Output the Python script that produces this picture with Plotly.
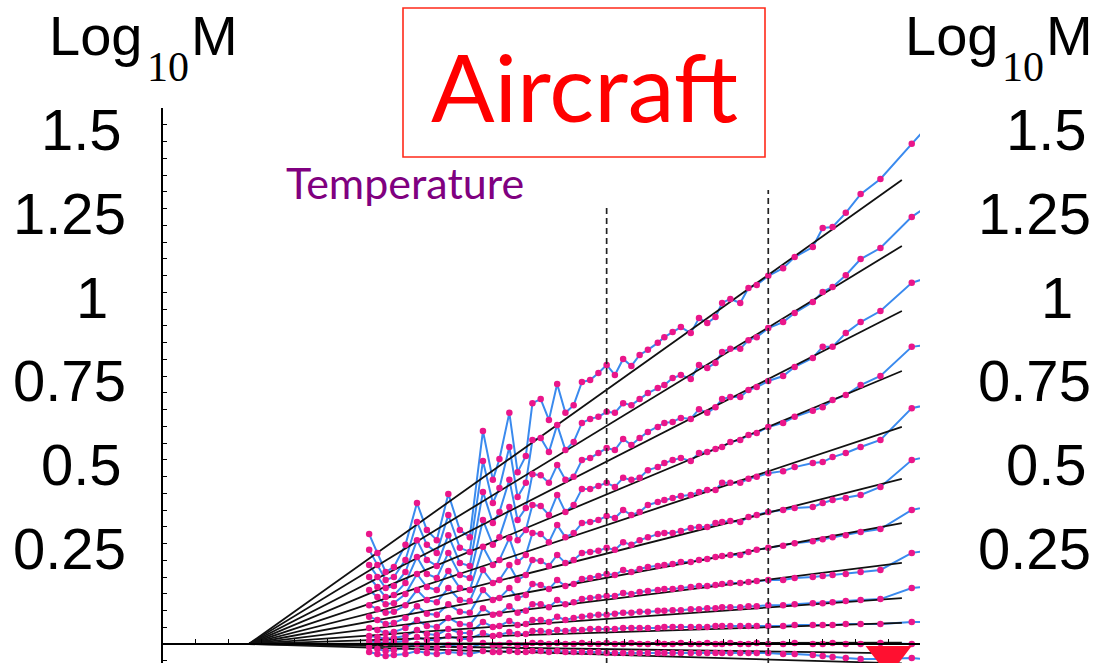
import plotly.graph_objects as go

# ---------------- data ----------------
lag = [1.25, 1.30, 1.35, 1.40, 1.47, 1.54, 1.60, 1.66, 1.73, 1.80,
       1.86, 1.94, 2.00, 2.04, 2.10, 2.15, 2.20, 2.24, 2.29, 2.34,
       2.39, 2.44, 2.49, 2.54, 2.59, 2.64, 2.69, 2.74, 2.79, 2.84,
       2.89, 2.94, 3.00, 3.04, 3.09, 3.14, 3.20, 3.25, 3.30, 3.35,
       3.39, 3.44, 3.50, 3.55, 3.60, 3.67, 3.76, 3.83, 3.94, 4.00,
       4.06, 4.14, 4.23, 4.35, 4.54, 4.68]

m1 = [0.328, 0.272, 0.215, 0.230, 0.296, 0.421, 0.340, 0.310, 0.448, 0.340,
      0.319, 0.636, 0.490, 0.552, 0.690, 0.513, 0.561, 0.719, 0.731, 0.669,
      0.776, 0.690, 0.713, 0.782, 0.788, 0.809, 0.833, 0.803, 0.851, 0.830,
      0.863, 0.878, 0.899, 0.916, 0.931, 0.946, 0.928, 0.973, 0.958, 0.976,
      1.018, 1.030, 1.018, 1.063, 1.072, 1.099, 1.122, 1.155, 1.185, 1.242,
      1.245, 1.287, 1.343, 1.388, 1.493, 1.570]
m2 = [0.281, 0.236, 0.191, 0.200, 0.251, 0.364, 0.296, 0.272, 0.385, 0.287,
      0.275, 0.546, 0.421, 0.466, 0.588, 0.439, 0.481, 0.609, 0.615, 0.573,
      0.654, 0.579, 0.603, 0.660, 0.672, 0.678, 0.693, 0.690, 0.719, 0.713,
      0.731, 0.749, 0.764, 0.773, 0.794, 0.803, 0.791, 0.833, 0.824, 0.839,
      0.872, 0.881, 0.881, 0.907, 0.916, 0.943, 0.961, 0.988, 1.021, 1.051,
      1.066, 1.101, 1.149, 1.182, 1.275, 1.322]
m3 = [0.236, 0.200, 0.167, 0.173, 0.215, 0.310, 0.251, 0.233, 0.325, 0.242,
      0.233, 0.454, 0.361, 0.394, 0.490, 0.370, 0.406, 0.507, 0.504, 0.481,
      0.534, 0.490, 0.499, 0.549, 0.555, 0.570, 0.585, 0.579, 0.612, 0.594,
      0.615, 0.633, 0.648, 0.660, 0.663, 0.675, 0.672, 0.701, 0.690, 0.707,
      0.731, 0.737, 0.737, 0.758, 0.767, 0.785, 0.800, 0.827, 0.854, 0.887,
      0.887, 0.928, 0.961, 0.994, 1.078, 1.101]
m4 = [0.200, 0.170, 0.140, 0.146, 0.182, 0.260, 0.209, 0.197, 0.272, 0.206,
      0.197, 0.370, 0.296, 0.319, 0.409, 0.310, 0.340, 0.415, 0.412, 0.385,
      0.445, 0.394, 0.415, 0.463, 0.463, 0.472, 0.481, 0.469, 0.496, 0.490,
      0.496, 0.519, 0.528, 0.540, 0.549, 0.555, 0.546, 0.570, 0.573, 0.582,
      0.588, 0.603, 0.609, 0.624, 0.630, 0.648, 0.660, 0.678, 0.696, 0.707,
      0.728, 0.743, 0.773, 0.800, 0.887, 0.896]
m5 = [0.161, 0.140, 0.119, 0.122, 0.149, 0.209, 0.170, 0.161, 0.218, 0.167,
      0.161, 0.290, 0.236, 0.251, 0.316, 0.245, 0.266, 0.331, 0.328, 0.304,
      0.355, 0.319, 0.331, 0.361, 0.364, 0.370, 0.382, 0.376, 0.400, 0.385,
      0.394, 0.415, 0.424, 0.430, 0.436, 0.442, 0.445, 0.454, 0.460, 0.460,
      0.481, 0.481, 0.481, 0.493, 0.499, 0.510, 0.516, 0.528, 0.540, 0.543,
      0.558, 0.570, 0.588, 0.609, 0.704, 0.719]
m6 = [0.116, 0.104, 0.093, 0.096, 0.116, 0.161, 0.131, 0.125, 0.167, 0.131,
      0.128, 0.221, 0.182, 0.191, 0.236, 0.191, 0.206, 0.251, 0.248, 0.233,
      0.266, 0.242, 0.251, 0.272, 0.275, 0.278, 0.287, 0.281, 0.304, 0.296,
      0.310, 0.319, 0.328, 0.331, 0.331, 0.337, 0.346, 0.349, 0.349, 0.361,
      0.364, 0.367, 0.364, 0.379, 0.385, 0.394, 0.400, 0.406, 0.409, 0.421,
      0.430, 0.436, 0.445, 0.469, 0.549, 0.564]
m7 = [0.081, 0.072, 0.060, 0.063, 0.078, 0.113, 0.090, 0.087, 0.119, 0.096,
      0.093, 0.161, 0.131, 0.137, 0.167, 0.137, 0.146, 0.179, 0.176, 0.164,
      0.191, 0.173, 0.179, 0.194, 0.197, 0.203, 0.209, 0.206, 0.221, 0.215,
      0.224, 0.230, 0.233, 0.236, 0.239, 0.245, 0.245, 0.251, 0.254, 0.260,
      0.263, 0.266, 0.266, 0.275, 0.281, 0.287, 0.293, 0.301, 0.307, 0.313,
      0.319, 0.325, 0.334, 0.343, 0.400, 0.415]
m8 = [0.048, 0.042, 0.033, 0.036, 0.048, 0.072, 0.054, 0.051, 0.078, 0.060,
      0.057, 0.107, 0.087, 0.090, 0.113, 0.093, 0.099, 0.119, 0.119, 0.110,
      0.131, 0.119, 0.125, 0.134, 0.137, 0.140, 0.143, 0.143, 0.152, 0.149,
      0.155, 0.158, 0.161, 0.164, 0.164, 0.167, 0.170, 0.173, 0.173, 0.176,
      0.179, 0.182, 0.182, 0.185, 0.188, 0.191, 0.191, 0.197, 0.200, 0.203,
      0.206, 0.209, 0.215, 0.221, 0.272, 0.281]
m9 = [0.024, 0.021, 0.015, 0.018, 0.024, 0.042, 0.030, 0.027, 0.045, 0.033,
      0.033, 0.066, 0.051, 0.054, 0.069, 0.057, 0.060, 0.072, 0.072, 0.066,
      0.081, 0.072, 0.078, 0.081, 0.084, 0.087, 0.087, 0.090, 0.093, 0.093,
      0.096, 0.096, 0.099, 0.099, 0.101, 0.101, 0.104, 0.104, 0.107, 0.107,
      0.110, 0.110, 0.110, 0.113, 0.113, 0.116, 0.116, 0.119, 0.122, 0.122,
      0.125, 0.128, 0.131, 0.134, 0.167, 0.173]
m10 = [0.009, 0.006, 0.003, 0.006, 0.009, 0.021, 0.012, 0.012, 0.024, 0.015,
       0.015, 0.033, 0.024, 0.027, 0.036, 0.030, 0.030, 0.039, 0.039, 0.036,
       0.042, 0.039, 0.042, 0.042, 0.045, 0.045, 0.045, 0.045, 0.048, 0.048,
       0.048, 0.048, 0.048, 0.051, 0.051, 0.051, 0.051, 0.051, 0.051, 0.054,
       0.054, 0.054, 0.054, 0.054, 0.054, 0.054, 0.054, 0.057, 0.057, 0.057,
       0.057, 0.060, 0.060, 0.060, 0.066, 0.066]
m11 = [-0.009, -0.015, -0.021, -0.018, -0.012, 0.000, -0.009, -0.012, -0.003, -0.009,
       -0.012, 0.003, -0.003, -0.003, 0.003, -0.003, -0.003, 0.003, 0.003, 0.000,
       0.003, 0.000, 0.000, 0.003, 0.000, 0.000, 0.003, 0.000, 0.000, 0.003,
       0.000, 0.000, 0.003, 0.000, 0.000, 0.003, 0.000, 0.000, 0.003, 0.000,
       0.000, 0.003, 0.000, 0.000, 0.003, 0.000, 0.000, 0.003, 0.000, 0.000,
       0.003, 0.000, 0.000, 0.003, 0.000, 0.000]
m12 = [-0.024, -0.030, -0.036, -0.033, -0.030, -0.021, -0.027, -0.030, -0.024, -0.027,
       -0.030, -0.021, -0.024, -0.024, -0.021, -0.024, -0.024, -0.021, -0.021, -0.024,
       -0.021, -0.024, -0.024, -0.024, -0.024, -0.024, -0.027, -0.027, -0.027, -0.027,
       -0.027, -0.027, -0.027, -0.027, -0.027, -0.027, -0.027, -0.027, -0.027, -0.027,
       -0.027, -0.027, -0.027, -0.027, -0.027, -0.027, -0.030, -0.030, -0.033, -0.036,
       -0.039, -0.042, -0.045, -0.045, -0.042, -0.048]

moments = [m1, m2, m3, m4, m5, m6, m7, m8, m9, m10, m11, m12]

# straight-line fits: all start at (fit_x[0], 0) and end at (fit_x[1], fit_end)
fit_x = [0.52, 4.48]
fit_end = [1.385, 1.188, 0.994, 0.815, 0.648, 0.493, 0.361, 0.242,
           0.137, 0.063, 0.004, -0.028, -0.058]

fit_window = [2.69, 3.67]       # dashed scaling-range bounds (x)
fit_window_top = [1.31, 1.355]  # how high the dashed lines reach

flag_x = [4.40, 1.255]
flag_y = [-0.036, -0.085]
flag_symbol = ["triangle-down", "triangle-up"]
flag_size = [40, 18]

tick_values = [1.5, 1.25, 1, 0.75, 0.5, 0.25]
tick_text = ["1.5", "1.25", "1", "0.75", "0.5", "0.25"]

# ---------------- figure ----------------
W, H = 1101, 663
BLUE = "#3a8aee"
DOT = "#ea168a"

fig = go.Figure()

for m in moments:
    fig.add_trace(go.Scatter(x=lag, y=m, mode="lines",
                             line=dict(color=BLUE, width=2),
                             hoverinfo="skip"))

for e in fit_end:
    fig.add_trace(go.Scatter(x=fit_x, y=[0, e], mode="lines",
                             line=dict(color="#111111", width=1.8),
                             hoverinfo="skip"))

for m in moments:
    fig.add_trace(go.Scatter(x=lag, y=m, mode="markers",
                             marker=dict(color=DOT, size=6.5),
                             hoverinfo="skip"))

fig.add_trace(go.Scatter(x=flag_x, y=flag_y, mode="markers",
                         marker=dict(color="#ff1030", size=flag_size,
                                     symbol=flag_symbol, opacity=1,
                                     line=dict(width=0)),
                         cliponaxis=False, hoverinfo="skip"))

shapes = []
for xv, top in zip(fit_window, fit_window_top):
    shapes.append(dict(type="line", xref="x", yref="y", x0=xv, x1=xv,
                       y0=-0.06, y1=top,
                       line=dict(color="#222222", width=1.7, dash="6px,4px")))
# title box
shapes.append(dict(type="rect", xref="paper", yref="paper",
                   x0=403 / W, x1=765 / W, y0=1 - 157 / H, y1=1 - 8 / H,
                   line=dict(color="#ff2a1a", width=1.6)))

ann = []
ann.append(dict(text="Aircraft", xref="paper", yref="paper",
                x=584 / W, y=1 - 86 / H, xanchor="center", yanchor="middle",
                showarrow=False, font=dict(family="Lato", size=94, color="#ff0000")))
ann.append(dict(text="Temperature", xref="paper", yref="paper",
                x=284 / W, y=1 - 182 / H, xanchor="left", yanchor="middle",
                showarrow=False, font=dict(family="Lato", size=43, color="#800080")))

# Log10M headers (left and right)
LOGFONT = "Liberation Sans"
for lx, sx, mx in [(47, 145, 189), (903, 1000, 1044)]:
    ann.append(dict(text="Log", xref="paper", yref="paper", x=lx / W, y=1 - 35 / H,
                    xanchor="left", yanchor="middle", showarrow=False,
                    font=dict(family=LOGFONT, size=56, color="black")))
    ann.append(dict(text="10", xref="paper", yref="paper", x=sx / W, y=1 - 67 / H,
                    xanchor="left", yanchor="middle", showarrow=False,
                    font=dict(family="Liberation Serif", size=42, color="black")))
    ann.append(dict(text="M", xref="paper", yref="paper", x=mx / W, y=1 - 35 / H,
                    xanchor="left", yanchor="middle", showarrow=False,
                    font=dict(family=LOGFONT, size=56, color="black")))

label_shift = [-4, 0, -18, 0, -4, 0]
for v, t, s in zip(tick_values, tick_text, label_shift):
    for edge in (128, 1093):
        ann.append(dict(text=t, xref="paper", yref="y", x=edge / W, y=v,
                        xanchor="right", yanchor="middle", xshift=s, yshift=12,
                        showarrow=False,
                        font=dict(family="Liberation Sans", size=58, color="black")))

fig.update_layout(
    width=W, height=H,
    margin=dict(l=0, r=0, t=0, b=0),
    paper_bgcolor="white", plot_bgcolor="white",
    showlegend=False,
    shapes=shapes, annotations=ann,
    xaxis=dict(domain=[163 / W, 920 / W], range=[0, 4.59],
               anchor="free", position=19 / H,
               showgrid=False, zeroline=False, showline=True,
               linecolor="black", linewidth=1.5,
               ticks="inside", ticklen=4, tickcolor="black", tickwidth=1.2,
               tick0=0, dtick=0.2, showticklabels=False),
    yaxis=dict(domain=[0, 555 / H], range=[-0.0567, 1.6], anchor="x",
               showgrid=False, zeroline=False, showline=True,
               linecolor="black", linewidth=1.5,
               ticks="inside", ticklen=4, tickcolor="black", tickwidth=1.2,
               tick0=0, dtick=0.05, showticklabels=False),
)

fig.write_html("out.html")
